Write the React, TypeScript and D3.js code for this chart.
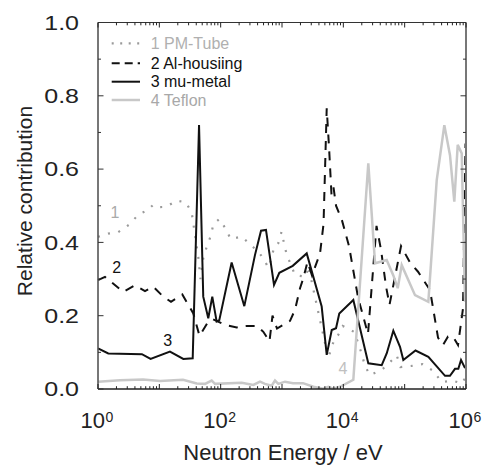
import React from "react";
import * as d3 from "d3";

// ---- data (energy in eV, relative contribution) ----
const pmE = [1, 1.46, 2.14, 3.26, 4.61, 6.41, 7.88, 8.83, 12.9, 19.2, 27.2, 33.7, 35.8, 40.7, 43.2, 46.9, 52.1, 59.2, 68.8, 75.9, 95, 118, 146, 220, 301, 396, 496, 598, 679, 741, 871, 982, 1079, 1185, 1630, 2465, 2687, 5690, 6470, 7330, 8280, 9770, 14930, 17540, 19940, 22550, 27230, 42270, 65310, 74130, 85510, 129400, 194000, 289700, 401800, 602600, 861000, 964000];
const pmV = [0.415, 0.424, 0.428, 0.449, 0.477, 0.487, 0.502, 0.496, 0.497, 0.514, 0.509, 0.481, 0.452, 0.388, 0.36, 0.3, 0.357, 0.388, 0.417, 0.449, 0.464, 0.44, 0.409, 0.416, 0.395, 0.377, 0.357, 0.331, 0.357, 0.387, 0.398, 0.429, 0.398, 0.368, 0.311, 0.306, 0.335, 0.084, 0.115, 0.14, 0.148, 0.172, 0.156, 0.125, 0.095, 0.063, 0.038, 0.052, 0.082, 0.092, 0.06, 0.063, 0.068, 0.05, 0.019, 0.023, 0.015, 0.03];

const alE = [1, 1.3, 2.59, 4.01, 5.84, 7.97, 11.6, 15.5, 23.7, 35.8, 45.2, 62.9, 75, 118, 183, 266, 396, 496, 625, 700, 829, 1352, 1630, 1968, 2203, 2606, 3085, 4169, 4755, 5358, 5845, 6414, 6918, 7601, 9510, 12380, 17350, 25250, 34750, 41140, 49640, 56620, 87290, 122200, 165200, 259000, 350000, 422000, 509000, 614000, 741000, 894000, 982000];
const alV = [0.297, 0.306, 0.265, 0.283, 0.267, 0.279, 0.252, 0.238, 0.258, 0.206, 0.145, 0.184, 0.19, 0.175, 0.168, 0.172, 0.172, 0.156, 0.13, 0.2, 0.165, 0.186, 0.216, 0.275, 0.3, 0.347, 0.31, 0.37, 0.45, 0.766, 0.66, 0.53, 0.55, 0.5, 0.46, 0.39, 0.25, 0.15, 0.445, 0.38, 0.28, 0.23, 0.39, 0.345, 0.32, 0.27, 0.14, 0.12, 0.143, 0.143, 0.12, 0.22, 0.67];

const muE = [1, 1.47, 5.2, 7.2, 14.9, 24.6, 35, 44.4, 52, 62.8, 73, 86, 95, 151, 243, 363, 455, 548, 741, 904, 1496, 2529, 4436, 5358, 6471, 7603, 8590, 14555, 25530, 42270, 50930, 65310, 83950, 95060, 150300, 243200, 455000, 548000, 662000, 750000, 830000, 964000];
const muV = [0.111, 0.097, 0.095, 0.082, 0.102, 0.082, 0.084, 0.72, 0.252, 0.193, 0.252, 0.184, 0.188, 0.345, 0.226, 0.366, 0.432, 0.434, 0.284, 0.317, 0.336, 0.37, 0.225, 0.093, 0.161, 0.166, 0.206, 0.243, 0.07, 0.065, 0.097, 0.159, 0.115, 0.079, 0.105, 0.088, 0.036, 0.036, 0.055, 0.055, 0.079, 0.057];

const tefE = [1, 2.28, 5.42, 10.3, 24.3, 40.7, 55.6, 71.4, 80.9, 220, 341, 438, 528, 679, 769, 871, 1120, 1513, 2202, 3243, 4720, 5690, 6868, 8830, 14550, 25540, 32870, 50930, 65310, 77070, 89540, 147500, 243200, 333300, 443300, 548400, 645000, 732700, 851500, 964000];
const tefV = [0.02, 0.024, 0.026, 0.022, 0.025, 0.015, 0.014, 0.023, 0.014, 0.017, 0.011, 0.02, 0.014, 0.009, 0.023, 0.014, 0.02, 0.016, 0.016, 0.006, 0.001, 0.006, 0.001, 0.006, 0.025, 0.616, 0.343, 0.352, 0.31, 0.275, 0.338, 0.256, 0.238, 0.57, 0.72, 0.638, 0.511, 0.666, 0.643, 0.238];

const legendLabels = ["1 PM-Tube", "2 Al-housiing", "3 mu-metal", "4 Teflon"];
const yTicks = [0, 0.2, 0.4, 0.6, 0.8, 1.0];
const xTickExps = [0, 2, 4, 6];

const W = 488, H = 467;
const L = 98, R = 466, T = 22.5, B = 389;

export default function App() {
  const x = d3.scaleLog().domain([1, 1e6]).range([L, R]);
  const y = d3.scaleLinear().domain([0, 1]).range([B, T]);
  const line = d3.line<[number, number]>().x(d => x(d[0])).y(d => y(d[1]));
  const pts = (e: number[], v: number[]) => e.map((ei, i) => [ei, v[i]] as [number, number]);

  const styles = [
    { stroke: "#9a9a9a", width: 2.2, dash: "2,8.5" },
    { stroke: "#111", width: 2, dash: "9,8" },
    { stroke: "#111", width: 2, dash: "" },
    { stroke: "#c8c8c8", width: 2.5, dash: "" },
  ];
  const series = [pts(pmE, pmV), pts(alE, alV), pts(muE, muV), pts(tefE, tefV)];
  const textColors = ["#b0b0b0", "#111", "#111", "#a8a8a8"];

  // ticks
  const minorY = d3.range(0, 1.0001, 0.1);
  const logTicks: { v: number; major: boolean }[] = [];
  for (let e = 0; e < 6; e++) {
    for (let m = 1; m < 10; m++) logTicks.push({ v: m * Math.pow(10, e), major: m === 1 });
  }
  logTicks.push({ v: 1e6, major: true });

  const font = "Liberation Sans, Arial, sans-serif";

  return (
    <svg width={W} height={H} style={{ position: "absolute", left: 0, top: 0 }} fontFamily={font}>
      <rect x={0} y={0} width={W} height={H} fill="#fff" />
      {/* series */}
      {series.map((s, i) => (
        <path key={i} d={line(s) || ""} fill="none" stroke={styles[i].stroke} strokeWidth={styles[i].width}
          strokeDasharray={styles[i].dash || undefined} strokeLinejoin="miter" />
      ))}
      {/* frame */}
      <line x1={L} x2={R} y1={T} y2={T} stroke="#333" strokeWidth={1} />
      <line x1={R} x2={R} y1={T} y2={B} stroke="#777" strokeWidth={2} />
      <line x1={L} x2={R} y1={B} y2={B} stroke="#222" strokeWidth={1.6} />
      <line x1={L} x2={L} y1={T} y2={B} stroke="#555" strokeWidth={1.6} />
      {/* y ticks */}
      {minorY.map((v, i) => {
        const major = i % 2 === 0;
        const len = major ? 5.5 : 3;
        return (
          <g key={i}>
            <line x1={L} x2={L + len} y1={y(v)} y2={y(v)} stroke="#333" strokeWidth={1} />
            <line x1={R} x2={R - len} y1={y(v)} y2={y(v)} stroke="#333" strokeWidth={1} />
          </g>
        );
      })}
      {/* x ticks */}
      {logTicks.map((t, i) => {
        const len = t.major ? 5 : 2.8;
        return (
          <g key={i}>
            <line x1={x(t.v)} x2={x(t.v)} y1={B} y2={B - len} stroke="#222" strokeWidth={1} />
            <line x1={x(t.v)} x2={x(t.v)} y1={T} y2={T + len} stroke="#222" strokeWidth={1} />
          </g>
        );
      })}
      {/* y tick labels */}
      {yTicks.map((v, i) => (
        <text key={i} transform={`translate(79,${y(v) + 7.3}) scale(1.25,1)`} textAnchor="end" fontSize={20} fill="#222">
          {v.toFixed(1)}
        </text>
      ))}
      {/* x tick labels */}
      {xTickExps.map((e, i) => {
        const px = x(Math.pow(10, e));
        return (
          <g key={i}>
            <text x={px + 7} y={428} textAnchor="end" fontSize={22} fill="#222">10</text>
            <text x={px + 7.5} y={421.5} textAnchor="start" fontSize={14} fill="#222">{e}</text>
          </g>
        );
      })}
      {/* axis titles */}
      <text x={283} y={459.5} textAnchor="middle" fontSize={22} fill="#222">Neutron Energy / eV</text>
      <text transform={`translate(32,201) rotate(-90)`} textAnchor="middle" fontSize={21} fill="#222">Relative contribution</text>
      {/* legend */}
      {legendLabels.map((lab, i) => {
        const cy = [43.3, 63.3, 81.7, 100][i];
        return (
          <g key={i}>
            <line x1={111.7} x2={140} y1={cy} y2={cy} stroke={styles[i].stroke} strokeWidth={styles[i].width}
              strokeDasharray={i === 1 ? "8,5" : i === 0 ? "2,6.5" : undefined} />
            <text x={150.7} y={cy + 5.7} fontSize={16} fill={textColors[i]}>{lab}</text>
          </g>
        );
      })}
      {/* curve labels */}
      <text x={115} y={217.5} textAnchor="middle" fontSize={16} fill="#aaa">1</text>
      <text x={116.7} y={273} textAnchor="middle" fontSize={16} fill="#111">2</text>
      <text x={167.7} y={345.7} textAnchor="middle" fontSize={16} fill="#111">3</text>
      <text x={343} y={373.7} textAnchor="middle" fontSize={16} fill="#c0c0c0">4</text>
    </svg>
  );
}
